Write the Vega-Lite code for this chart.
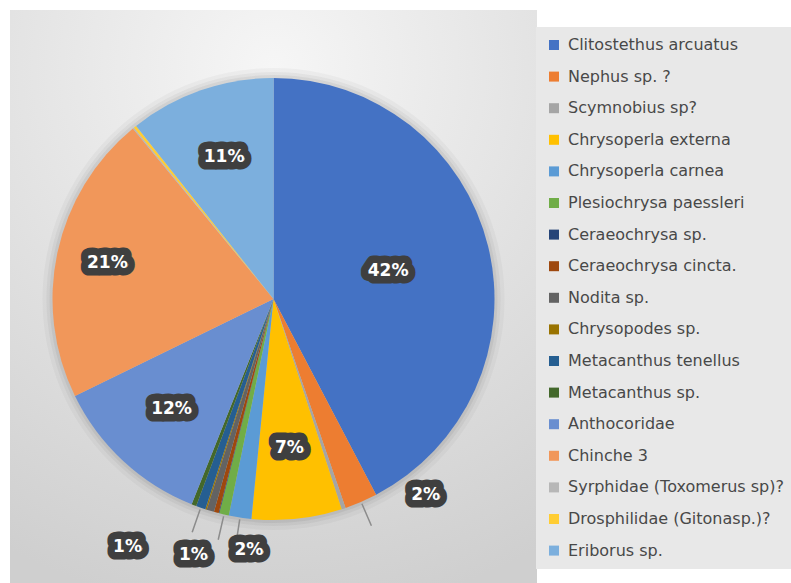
{
  "$schema": "https://vega.github.io/schema/vega-lite/v6.json",
  "width": 527,
  "height": 578,
  "autosize": {"type": "none"},
  "padding": {"left": 10, "top": 10, "right": 254, "bottom": 0},
  "background": "#ffffff",
  "config": {
    "view": {"stroke": null},
    "text": {"font": "DejaVu Sans"}
  },
  "datasets": {
    "catches": [
      {"idx": 1, "species": "Clitostethus arcuatus", "value": 0.424},
      {"idx": 2, "species": "Nephus sp. ?", "value": 0.024},
      {"idx": 3, "species": "Scymnobius sp?", "value": 0.003},
      {"idx": 4, "species": "Chrysoperla externa", "value": 0.066},
      {"idx": 5, "species": "Chrysoperla carnea", "value": 0.0165},
      {"idx": 6, "species": "Plesiochrysa paessleri", "value": 0.007},
      {"idx": 7, "species": "Ceraeochrysa sp.", "value": 0.0005},
      {"idx": 8, "species": "Ceraeochrysa cincta.", "value": 0.0035},
      {"idx": 9, "species": "Nodita sp.", "value": 0.0055},
      {"idx": 10, "species": "Chrysopodes sp.", "value": 0.001},
      {"idx": 11, "species": "Metacanthus tenellus", "value": 0.007},
      {"idx": 12, "species": "Metacanthus sp.", "value": 0.0035},
      {"idx": 13, "species": "Anthocoridae", "value": 0.1175},
      {"idx": 14, "species": "Chinche 3", "value": 0.213},
      {"idx": 15, "species": "Syrphidae (Toxomerus sp)?", "value": 0.001},
      {"idx": 16, "species": "Drosphilidae (Gitonasp.)?", "value": 0.002},
      {"idx": 17, "species": "Eriborus sp.", "value": 0.107}
    ],
    "panel": [{"name": "background"}]
  },
  "layer": [
    {
      "data": {"name": "panel"},
      "mark": {
        "type": "rect",
        "fill": {
          "gradient": "radial",
          "x1": 0.5, "y1": 0.1, "r1": 0,
          "x2": 0.5, "y2": 0.1, "r2": 0.95,
          "stops": [
            {"offset": 0, "color": "#f6f6f6"},
            {"offset": 1, "color": "#cfcfcf"}
          ]
        }
      },
      "encoding": {
        "x": {"value": 0},
        "x2": {"value": "width"},
        "y": {"value": 0},
        "y2": {"value": "height"}
      }
    },
    {
      "data": {"name": "panel"},
      "layer": [
        {"mark": {"type": "arc", "outerRadius": 231, "theta": 0, "theta2": 6.2832, "fill": "#000000", "opacity": 0.03}, "encoding": {}},
        {"mark": {"type": "arc", "outerRadius": 227, "theta": 0, "theta2": 6.2832, "fill": "#000000", "opacity": 0.04}, "encoding": {}},
        {"mark": {"type": "arc", "outerRadius": 224, "theta": 0, "theta2": 6.2832, "fill": "#000000", "opacity": 0.05}, "encoding": {}}
      ]
    },
    {
      "data": {"name": "catches"},
      "encoding": {
        "theta": {"field": "value", "type": "quantitative", "stack": true},
        "order": {"field": "idx", "type": "quantitative"}
      },
      "layer": [
        {
          "mark": {"type": "arc", "outerRadius": 221},
          "encoding": {
            "color": {
              "field": "species",
              "type": "nominal",
              "scale": {
                "domain": ["Clitostethus arcuatus", "Nephus sp. ?", "Scymnobius sp?", "Chrysoperla externa", "Chrysoperla carnea", "Plesiochrysa paessleri", "Ceraeochrysa sp.", "Ceraeochrysa cincta.", "Nodita sp.", "Chrysopodes sp.", "Metacanthus tenellus", "Metacanthus sp.", "Anthocoridae", "Chinche 3", "Syrphidae (Toxomerus sp)?", "Drosphilidae (Gitonasp.)?", "Eriborus sp."],
                "range": ["#4472C4", "#ED7D31", "#A5A5A5", "#FFC000", "#5B9BD5", "#70AD47", "#264478", "#9E480E", "#636363", "#997300", "#255E91", "#43682B", "#698ED0", "#F1975A", "#B7B7B7", "#FFCD33", "#7CAFDD"]
              },
              "legend": {
                "orient": "none",
                "legendX": 526,
                "legendY": 17,
                "title": null,
                "symbolType": "square",
                "symbolSize": 100,
                "symbolStrokeWidth": 0,
                "labelFont": "DejaVu Sans",
                "labelFontSize": 16,
                "labelColor": "#484848",
                "labelOffset": 6,
                "labelLimit": 300,
                "rowPadding": 15.6,
                "padding": 10,
                "fillColor": "#e8e8e8"
              }
            }
          }
        },
        {
          "mark": {"type": "arc", "innerRadius": 223, "outerRadius": 247, "padAngle": 1, "filled": false, "stroke": "#8c8c8c", "strokeWidth": 1.5},
          "encoding": {
            "opacity": {"condition": {"test": "datum.value >= 0.006 && datum.value < 0.05", "value": 1}, "value": 0}
          }
        },
        {
          "mark": {"type": "text", "radius": 118, "fontSize": 17, "fontWeight": "bold", "baseline": "middle", "fill": "#3f3f3f", "stroke": "#3f3f3f", "strokeWidth": 15, "strokeJoin": "round"},
          "encoding": {
            "text": {"field": "value", "type": "quantitative", "format": ".0%"},
            "opacity": {"condition": {"test": "datum.species === 'Clitostethus arcuatus'", "value": 1}, "value": 0}
          }
        },
        {
          "mark": {"type": "text", "radius": 118, "fontSize": 17, "fontWeight": "bold", "baseline": "middle", "fill": "#ffffff"},
          "encoding": {
            "text": {"field": "value", "type": "quantitative", "format": ".0%"},
            "opacity": {"condition": {"test": "datum.species === 'Clitostethus arcuatus'", "value": 1}, "value": 0}
          }
        },
        {
          "mark": {"type": "text", "radius": 170, "fontSize": 17, "fontWeight": "bold", "baseline": "middle", "fill": "#3f3f3f", "stroke": "#3f3f3f", "strokeWidth": 15, "strokeJoin": "round"},
          "encoding": {
            "text": {"field": "value", "type": "quantitative", "format": ".0%"},
            "opacity": {"condition": {"test": "datum.species === 'Chinche 3'", "value": 1}, "value": 0}
          }
        },
        {
          "mark": {"type": "text", "radius": 170, "fontSize": 17, "fontWeight": "bold", "baseline": "middle", "fill": "#ffffff"},
          "encoding": {
            "text": {"field": "value", "type": "quantitative", "format": ".0%"},
            "opacity": {"condition": {"test": "datum.species === 'Chinche 3'", "value": 1}, "value": 0}
          }
        },
        {
          "mark": {"type": "text", "radius": 150, "fontSize": 17, "fontWeight": "bold", "baseline": "middle", "fill": "#3f3f3f", "stroke": "#3f3f3f", "strokeWidth": 15, "strokeJoin": "round"},
          "encoding": {
            "text": {"field": "value", "type": "quantitative", "format": ".0%"},
            "opacity": {"condition": {"test": "datum.value >= 0.05 && datum.species !== 'Clitostethus arcuatus' && datum.species !== 'Chinche 3'", "value": 1}, "value": 0}
          }
        },
        {
          "mark": {"type": "text", "radius": 150, "fontSize": 17, "fontWeight": "bold", "baseline": "middle", "fill": "#ffffff"},
          "encoding": {
            "text": {"field": "value", "type": "quantitative", "format": ".0%"},
            "opacity": {"condition": {"test": "datum.value >= 0.05 && datum.species !== 'Clitostethus arcuatus' && datum.species !== 'Chinche 3'", "value": 1}, "value": 0}
          }
        },
        {
          "mark": {"type": "text", "radius": 250, "dx": 53, "dy": -34, "fontSize": 17, "fontWeight": "bold", "baseline": "middle", "fill": "#3f3f3f", "stroke": "#3f3f3f", "strokeWidth": 15, "strokeJoin": "round"},
          "encoding": {
            "text": {"field": "value", "type": "quantitative", "format": ".0%"},
            "opacity": {"condition": {"test": "datum.species === 'Nephus sp. ?'", "value": 1}, "value": 0}
          }
        },
        {
          "mark": {"type": "text", "radius": 250, "dx": 53, "dy": -34, "fontSize": 17, "fontWeight": "bold", "baseline": "middle", "fill": "#ffffff"},
          "encoding": {
            "text": {"field": "value", "type": "quantitative", "format": ".0%"},
            "opacity": {"condition": {"test": "datum.species === 'Nephus sp. ?'", "value": 1}, "value": 0}
          }
        },
        {
          "mark": {"type": "text", "radius": 255, "dx": 14, "dy": -1, "fontSize": 17, "fontWeight": "bold", "baseline": "middle", "fill": "#3f3f3f", "stroke": "#3f3f3f", "strokeWidth": 15, "strokeJoin": "round"},
          "encoding": {
            "text": {"field": "value", "type": "quantitative", "format": ".0%"},
            "opacity": {"condition": {"test": "datum.species === 'Chrysoperla carnea'", "value": 1}, "value": 0}
          }
        },
        {
          "mark": {"type": "text", "radius": 255, "dx": 14, "dy": -1, "fontSize": 17, "fontWeight": "bold", "baseline": "middle", "fill": "#ffffff"},
          "encoding": {
            "text": {"field": "value", "type": "quantitative", "format": ".0%"},
            "opacity": {"condition": {"test": "datum.species === 'Chrysoperla carnea'", "value": 1}, "value": 0}
          }
        },
        {
          "mark": {"type": "text", "radius": 255, "dx": -23, "dy": 7, "fontSize": 17, "fontWeight": "bold", "baseline": "middle", "fill": "#3f3f3f", "stroke": "#3f3f3f", "strokeWidth": 15, "strokeJoin": "round"},
          "encoding": {
            "text": {"field": "value", "type": "quantitative", "format": ".0%"},
            "opacity": {"condition": {"test": "datum.species === 'Plesiochrysa paessleri'", "value": 1}, "value": 0}
          }
        },
        {
          "mark": {"type": "text", "radius": 255, "dx": -23, "dy": 7, "fontSize": 17, "fontWeight": "bold", "baseline": "middle", "fill": "#ffffff"},
          "encoding": {
            "text": {"field": "value", "type": "quantitative", "format": ".0%"},
            "opacity": {"condition": {"test": "datum.species === 'Plesiochrysa paessleri'", "value": 1}, "value": 0}
          }
        },
        {
          "mark": {"type": "text", "radius": 255, "dx": -62, "dy": 7, "fontSize": 17, "fontWeight": "bold", "baseline": "middle", "fill": "#3f3f3f", "stroke": "#3f3f3f", "strokeWidth": 15, "strokeJoin": "round"},
          "encoding": {
            "text": {"field": "value", "type": "quantitative", "format": ".0%"},
            "opacity": {"condition": {"test": "datum.species === 'Metacanthus tenellus'", "value": 1}, "value": 0}
          }
        },
        {
          "mark": {"type": "text", "radius": 255, "dx": -62, "dy": 7, "fontSize": 17, "fontWeight": "bold", "baseline": "middle", "fill": "#ffffff"},
          "encoding": {
            "text": {"field": "value", "type": "quantitative", "format": ".0%"},
            "opacity": {"condition": {"test": "datum.species === 'Metacanthus tenellus'", "value": 1}, "value": 0}
          }
        }
      ]
    }
  ]
}
